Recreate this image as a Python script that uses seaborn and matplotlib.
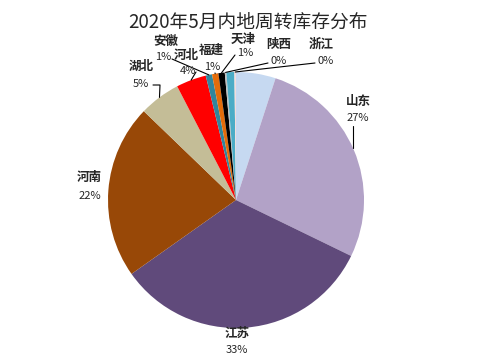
import numpy as np
import matplotlib
matplotlib.use("Agg")
import matplotlib.pyplot as plt
from matplotlib.transforms import Affine2D
import seaborn as sns

sns.set_style("white")
plt.rcParams['font.family'] = ['Noto Sans CJK SC', 'DejaVu Sans']

# data (share, %), clockwise from 12 o'clock
names = ['', '山东', '江苏', '河南', '湖北', '河北', '安徽', '福建', '天津', '陕西', '', '浙江']
values = [5.0, 27.2, 33.0, 22.0, 5.2, 3.8, 0.8, 0.8, 0.8, 0.2, 1.0, 0.2]
colors = ['#c6d9f1', '#b2a2c7', '#604a7b', '#984807', '#c4bd97', '#ff0000',
          '#31859c', '#e46c0a', '#000000', '#bfbfbf', '#4bacc6', '#f2dcdb']

# label layout in pixel coords (x, y from top): name pos, pct pos, leader start
label_pos = {
    '山东': ((358, 101), (358, 118), (353, 126)),
    '江苏': ((237, 333), (237, 350), None),
    '河南': ((89, 178), (90, 196), None),
    '湖北': ((141, 66), (141, 84), (153, 85)),
    '河北': ((186, 55), (188, 71), (196, 72)),
    '安徽': ((166, 41), (163, 57), (172, 59)),
    '福建': ((211, 50), (212, 67), (215, 73)),
    '天津': ((243, 39), (245, 53), (235, 55)),
    '陕西': ((279, 44), (279, 61), (268, 63)),
    '浙江': ((321, 44), (326, 61), (315, 63)),
}

W, H = 481, 361
cx, cy, R = 236, 200, 128

fig = plt.figure(figsize=(W / 100, H / 100), dpi=100)
ax = fig.add_axes([0, 0, 1, 1])

wedges, _ = ax.pie(values, colors=colors, startangle=90, counterclock=False,
                   center=(cx, H - cy), radius=R, frame=True,
                   wedgeprops=dict(linewidth=0))
# pie draws in y-up coords; flip wedges into the y-down axes
flip = Affine2D().scale(1, -1).translate(0, H) + ax.transData
for w in wedges:
    w.set_transform(flip)
ax.set_xlim(0, W)
ax.set_ylim(H, 0)
ax.set_aspect('equal')
ax.axis('off')

total = sum(values)
for w, name, v in zip(wedges, names, values):
    if not name:
        continue
    (nx, ny), (px, py), lead = label_pos[name]
    pct = f"{round(v / total * 100):d}%"
    ax.text(nx, ny, name, ha='center', va='center', fontsize=9, fontweight='bold')
    ax.text(px, py, pct, ha='center', va='center', fontsize=8)
    if lead is not None:
        mid = np.deg2rad((w.theta1 + w.theta2) / 2)
        ex = cx + R * np.cos(mid)
        ey = cy - R * np.sin(mid)
        if name == '山东':
            ex, ey = lead[0], cy - np.sqrt(R**2 - (lead[0] - cx)**2)
        if name == '湖北':
            ax.plot([lead[0], lead[0] + 7, ex], [lead[1], lead[1], ey], color='black', lw=0.8)
        else:
            ax.plot([lead[0], ex], [lead[1], ey], color='black', lw=0.8)

ax.text(248, 22, '2020年5月内地周转库存分布', ha='center', va='center', fontsize=13.5)

fig.savefig('out.png', dpi=100)
